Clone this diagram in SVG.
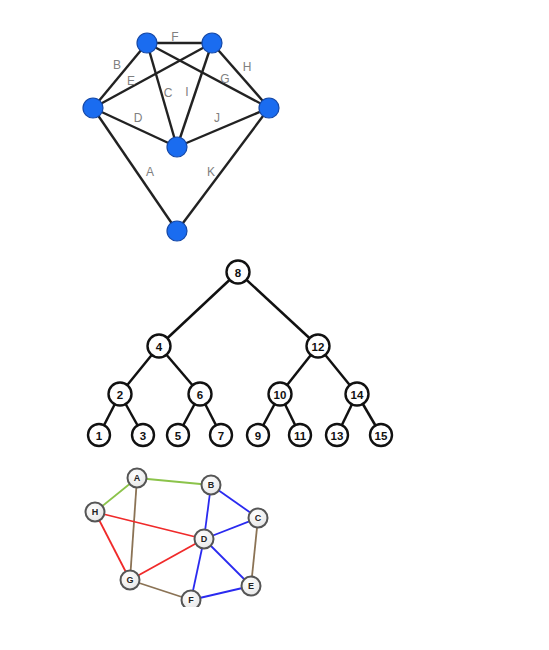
<svg xmlns="http://www.w3.org/2000/svg" width="549" height="650" viewBox="0 0 549 650">
<defs>
<style>
.e1{stroke:#222;stroke-width:2.4;fill:none}
.lb{font-family:"Liberation Sans",Arial,sans-serif;font-size:12px;fill:#808080;text-anchor:middle}
.bn{fill:#1a6cf0;stroke:#1448a8;stroke-width:1.2}
.tn{fill:#fff;stroke:#111;stroke-width:2.4}
.te{stroke:#111;stroke-width:2.5;fill:none}
.tt{font-family:"Liberation Sans",Arial,sans-serif;font-size:11.5px;font-weight:bold;fill:#111;text-anchor:middle}
.gn{fill:url(#gg);stroke:#555;stroke-width:2}
.gt{font-family:"Liberation Sans",Arial,sans-serif;font-size:9px;font-weight:bold;fill:#222;text-anchor:middle}
.g{stroke:#8bc34a;stroke-width:1.8;fill:none}
.b{stroke:#2a2af0;stroke-width:1.8;fill:none}
.r{stroke:#f02a2a;stroke-width:1.8;fill:none}
.w{stroke:#8b7355;stroke-width:1.8;fill:none}
</style>
<radialGradient id="gg" cx="0.4" cy="0.35" r="0.7"><stop offset="0" stop-color="#fff"/><stop offset="1" stop-color="#e6e6e6"/></radialGradient>
<clipPath id="clip3"><rect x="0" y="455" width="549" height="152"/></clipPath>
</defs>
<rect width="549" height="650" fill="#fff"/>

<!-- Graph 1 -->
<g id="g1-edges">
<line class="e1" x1="147" y1="43" x2="212" y2="43"/>
<line class="e1" x1="93" y1="108" x2="147" y2="43"/>
<line class="e1" x1="93" y1="108" x2="212" y2="43"/>
<line class="e1" x1="147" y1="43" x2="177" y2="147"/>
<line class="e1" x1="212" y1="43" x2="177" y2="147"/>
<line class="e1" x1="147" y1="43" x2="269" y2="108"/>
<line class="e1" x1="212" y1="43" x2="269" y2="108"/>
<line class="e1" x1="93" y1="108" x2="177" y2="147"/>
<line class="e1" x1="177" y1="147" x2="269" y2="108"/>
<line class="e1" x1="93" y1="108" x2="177" y2="231"/>
<line class="e1" x1="269" y1="108" x2="177" y2="231"/>
<text class="lb" x="175" y="41">F</text>
<text class="lb" x="117" y="69">B</text>
<text class="lb" x="131" y="85">E</text>
<text class="lb" x="168" y="97">C</text>
<text class="lb" x="187" y="96">I</text>
<text class="lb" x="225" y="83">G</text>
<text class="lb" x="247" y="71">H</text>
<text class="lb" x="138" y="122">D</text>
<text class="lb" x="217" y="122">J</text>
<text class="lb" x="150" y="176">A</text>
<text class="lb" x="211" y="176">K</text>
</g>
<g id="n1-tl"><circle class="bn" cx="147" cy="43" r="10"/></g>
<g id="n1-tr"><circle class="bn" cx="212" cy="43" r="10"/></g>
<g id="n1-l"><circle class="bn" cx="93" cy="108" r="10"/></g>
<g id="n1-r"><circle class="bn" cx="269" cy="108" r="10"/></g>
<g id="n1-c"><circle class="bn" cx="177" cy="147" r="10"/></g>
<g id="n1-b"><circle class="bn" cx="177" cy="231" r="10"/></g>

<!-- Tree -->
<g id="tree-edges">
<line class="te" x1="238" y1="272" x2="159" y2="346"/>
<line class="te" x1="238" y1="272" x2="318" y2="346"/>
<line class="te" x1="159" y1="346" x2="120" y2="394"/>
<line class="te" x1="159" y1="346" x2="200" y2="394"/>
<line class="te" x1="318" y1="346" x2="280" y2="394"/>
<line class="te" x1="318" y1="346" x2="357" y2="394"/>
<line class="te" x1="120" y1="394" x2="99" y2="435"/>
<line class="te" x1="120" y1="394" x2="143" y2="435"/>
<line class="te" x1="200" y1="394" x2="178" y2="435"/>
<line class="te" x1="200" y1="394" x2="221" y2="435"/>
<line class="te" x1="280" y1="394" x2="258" y2="435"/>
<line class="te" x1="280" y1="394" x2="300" y2="435"/>
<line class="te" x1="357" y1="394" x2="337" y2="435"/>
<line class="te" x1="357" y1="394" x2="381" y2="435"/>
</g>
<g id="t8"><circle class="tn" cx="238" cy="272" r="11.5"/><text class="tt" x="238" y="276.5">8</text></g>
<g id="t4"><circle class="tn" cx="159" cy="346" r="11.5"/><text class="tt" x="159" y="350.5">4</text></g>
<g id="t12"><circle class="tn" cx="318" cy="346" r="11.5"/><text class="tt" x="318" y="350.5">12</text></g>
<g id="t2"><circle class="tn" cx="120" cy="394" r="11.5"/><text class="tt" x="120" y="398.5">2</text></g>
<g id="t6"><circle class="tn" cx="200" cy="394" r="11.5"/><text class="tt" x="200" y="398.5">6</text></g>
<g id="t10"><circle class="tn" cx="280" cy="394" r="11.5"/><text class="tt" x="280" y="398.5">10</text></g>
<g id="t14"><circle class="tn" cx="357" cy="394" r="11.5"/><text class="tt" x="357" y="398.5">14</text></g>
<g id="t1"><circle class="tn" cx="99" cy="435" r="11"/><text class="tt" x="99" y="439.5">1</text></g>
<g id="t3"><circle class="tn" cx="143" cy="435" r="11"/><text class="tt" x="143" y="439.5">3</text></g>
<g id="t5"><circle class="tn" cx="178" cy="435" r="11"/><text class="tt" x="178" y="439.5">5</text></g>
<g id="t7"><circle class="tn" cx="221" cy="435" r="11"/><text class="tt" x="221" y="439.5">7</text></g>
<g id="t9"><circle class="tn" cx="258" cy="435" r="11"/><text class="tt" x="258" y="439.5">9</text></g>
<g id="t11"><circle class="tn" cx="300" cy="435" r="11"/><text class="tt" x="300" y="439.5">11</text></g>
<g id="t13"><circle class="tn" cx="337" cy="435" r="11"/><text class="tt" x="337" y="439.5">13</text></g>
<g id="t15"><circle class="tn" cx="381" cy="435" r="11"/><text class="tt" x="381" y="439.5">15</text></g>

<!-- Graph 3 -->
<g clip-path="url(#clip3)">
<g id="g3-edges">
<line class="g" x1="137" y1="478" x2="211" y2="485"/>
<line class="g" x1="95" y1="512" x2="137" y2="478"/>
<line class="b" x1="211" y1="485" x2="258" y2="518"/>
<line class="b" x1="211" y1="485" x2="204" y2="539"/>
<line class="b" x1="258" y1="518" x2="204" y2="539"/>
<line class="b" x1="204" y1="539" x2="251" y2="586"/>
<line class="b" x1="204" y1="539" x2="191" y2="600"/>
<line class="b" x1="191" y1="600" x2="251" y2="586"/>
<line class="w" x1="258" y1="518" x2="251" y2="586"/>
<line class="w" x1="137" y1="478" x2="130" y2="580"/>
<line class="w" x1="130" y1="580" x2="191" y2="600"/>
<line class="r" x1="95" y1="512" x2="204" y2="539"/>
<line class="r" x1="95" y1="512" x2="130" y2="580"/>
<line class="r" x1="130" y1="580" x2="204" y2="539"/>
</g>
<g id="gA"><circle class="gn" cx="137" cy="478" r="9.5"/><text class="gt" x="137" y="481.3">A</text></g>
<g id="gB"><circle class="gn" cx="211" cy="485" r="9.5"/><text class="gt" x="211" y="488.3">B</text></g>
<g id="gH"><circle class="gn" cx="95" cy="512" r="9.5"/><text class="gt" x="95" y="515.3">H</text></g>
<g id="gC"><circle class="gn" cx="258" cy="518" r="9.5"/><text class="gt" x="258" y="521.3">C</text></g>
<g id="gD"><circle class="gn" cx="204" cy="539" r="9.5"/><text class="gt" x="204" y="542.3">D</text></g>
<g id="gG"><circle class="gn" cx="130" cy="580" r="9.5"/><text class="gt" x="130" y="583.3">G</text></g>
<g id="gE"><circle class="gn" cx="251" cy="586" r="9.5"/><text class="gt" x="251" y="589.3">E</text></g>
<g id="gF"><circle class="gn" cx="191" cy="600" r="9.5"/><text class="gt" x="191" y="603.3">F</text></g>
</g>
</svg>
